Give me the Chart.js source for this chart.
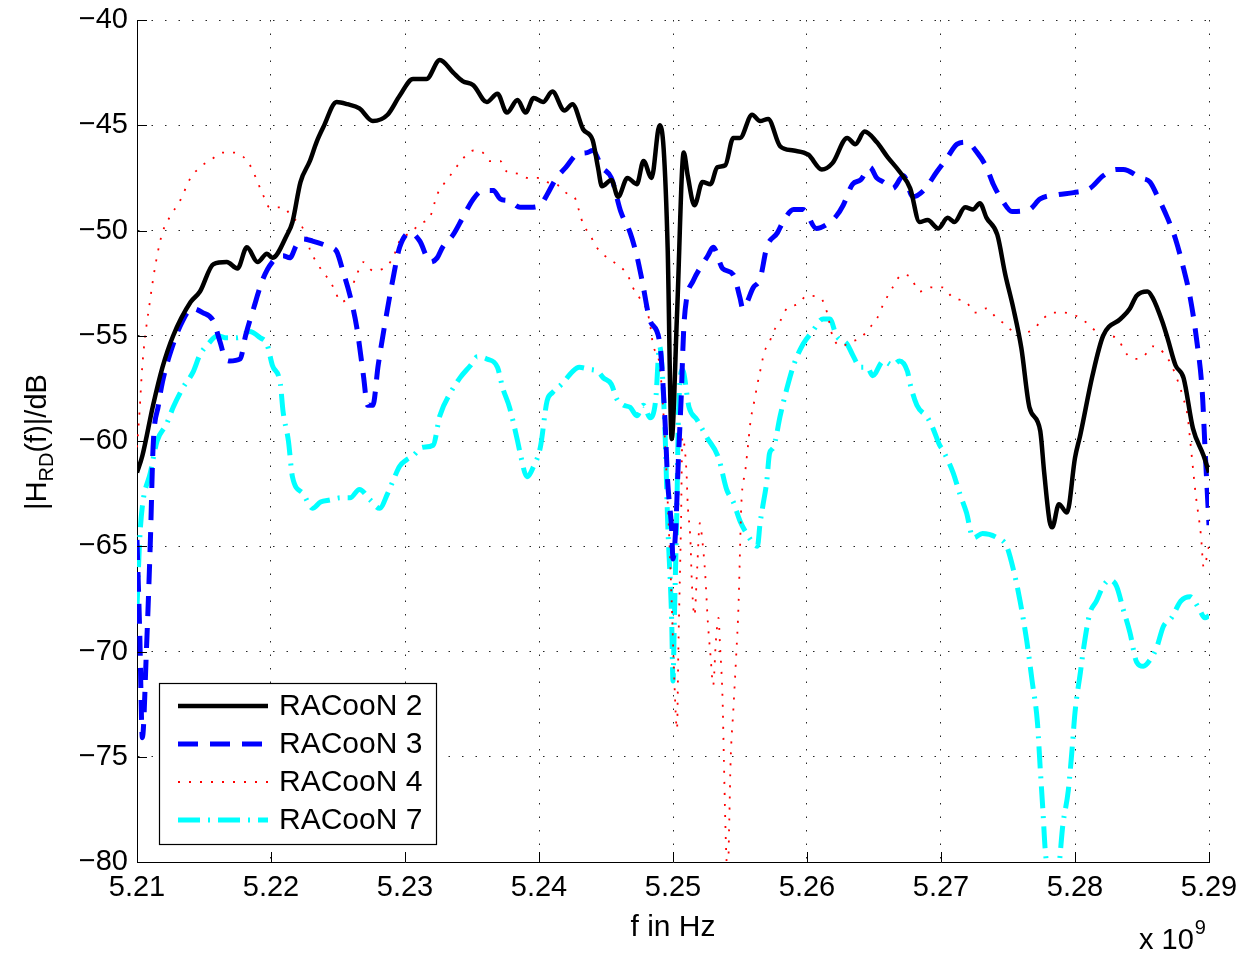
<!DOCTYPE html>
<html>
<head>
<meta charset="utf-8">
<script src="https://cdn.jsdelivr.net/npm/chart.js@4/dist/chart.umd.min.js"></script>
<style>
  html, body { margin: 0; padding: 0; background: #fff; }
  canvas { display: block; }
</style>
</head>
<body>
<canvas id="chart" width="1243" height="955"></canvas>
<script>
// frequency in GHz (axis multiplier x 10^9), magnitude in dB
const xTicks = [5.21, 5.22, 5.23, 5.24, 5.25, 5.26, 5.27, 5.28, 5.29];
const yTicks = [-80, -75, -70, -65, -60, -55, -50, -45, -40];
const seriesNames = ['RACooN 2', 'RACooN 3', 'RACooN 4', 'RACooN 7'];

// RACooN 2
const f2 = [5.2100, 5.2104, 5.2112, 5.2119, 5.2127, 5.2140, 5.2147, 5.2157, 5.2167, 5.2175,
  5.2182, 5.2190, 5.2197, 5.2201, 5.2212, 5.2216, 5.2222, 5.2229, 5.2234, 5.2239,
  5.2249, 5.2257, 5.2266, 5.2276, 5.2287, 5.2296, 5.2306, 5.2316, 5.2326, 5.2336,
  5.2343, 5.2351, 5.2361, 5.2369, 5.2376, 5.2384, 5.2390, 5.2396, 5.2403, 5.2410,
  5.2419, 5.2425, 5.2433, 5.2440, 5.2444, 5.2447, 5.2454, 5.2459, 5.2466, 5.2473,
  5.2478, 5.2484, 5.2490, 5.2493, 5.2496, 5.2499, 5.2503, 5.2508, 5.2511, 5.2516,
  5.2522, 5.2528, 5.2533, 5.2539, 5.2545, 5.2550, 5.2559, 5.2565, 5.2571, 5.2580,
  5.2590, 5.2601, 5.2611, 5.2619, 5.2630, 5.2636, 5.2643, 5.2652, 5.2660, 5.2669,
  5.2677, 5.2684, 5.2690, 5.2698, 5.2705, 5.2710, 5.2718, 5.2724, 5.2729, 5.2734,
  5.2742, 5.2748, 5.2754, 5.2760, 5.2766, 5.2774, 5.2777, 5.2781, 5.2783, 5.2788,
  5.2794, 5.2800, 5.2804, 5.2813, 5.2821, 5.2834, 5.2841, 5.2846, 5.2854, 5.2858,
  5.2865, 5.2869, 5.2875, 5.2881, 5.2888, 5.2896, 5.2900];
const h2 = [-61.5, -60.7, -58.3, -56.5, -55.0, -53.4, -52.9, -51.6, -51.5, -51.8,
  -50.8, -51.5, -51.1, -51.3, -50.2, -49.6, -47.7, -46.7, -45.8, -45.1,
  -43.9, -44.0, -44.2, -44.8, -44.5, -43.6, -42.8, -42.8, -41.9, -42.5,
  -42.9, -43.1, -43.9, -43.5, -44.4, -43.8, -44.4, -43.7, -43.9, -43.4,
  -44.3, -44.0, -45.2, -45.7, -47.0, -47.9, -47.6, -48.4, -47.5, -47.8,
  -46.7, -47.5, -45.0, -46.1, -50.8, -59.9, -54.0, -46.3, -47.4, -48.8,
  -47.7, -47.8, -47.0, -46.9, -45.6, -45.6, -44.5, -44.8, -44.7, -46.0,
  -46.2, -46.4, -47.1, -46.8, -45.6, -45.9, -45.3, -45.8, -46.5, -47.2,
  -48.0, -49.6, -49.5, -49.9, -49.4, -49.6, -48.9, -49.0, -48.7, -49.4,
  -50.2, -52.1, -53.7, -55.6, -58.4, -59.5, -61.5, -63.8, -64.1, -63.0,
  -63.4, -60.8, -59.7, -56.9, -55.0, -54.2, -53.7, -53.1, -52.9, -53.2,
  -54.3, -55.1, -56.4, -57.0, -59.4, -60.7, -61.5];

// RACooN 3
const f3 = [5.2100, 5.2102, 5.2104, 5.2107, 5.2110, 5.2112, 5.2116, 5.2119, 5.2127, 5.2134,
  5.2141, 5.2149, 5.2157, 5.2162, 5.2166, 5.2169, 5.2177, 5.2181, 5.2187, 5.2194,
  5.2201, 5.2209, 5.2214, 5.2219, 5.2224, 5.2231, 5.2244, 5.2249, 5.2254, 5.2259,
  5.2264, 5.2269, 5.2272, 5.2276, 5.2280, 5.2287, 5.2291, 5.2296, 5.2304, 5.2311,
  5.2319, 5.2324, 5.2328, 5.2336, 5.2343, 5.2351, 5.2358, 5.2366, 5.2371, 5.2378,
  5.2386, 5.2393, 5.2401, 5.2406, 5.2413, 5.2420, 5.2428, 5.2436, 5.2440, 5.2447,
  5.2454, 5.2461, 5.2468, 5.2473, 5.2477, 5.2483, 5.2490, 5.2494, 5.2496, 5.2499,
  5.2500, 5.2502, 5.2504, 5.2506, 5.2508, 5.2510, 5.2515, 5.2522, 5.2526, 5.2530,
  5.2537, 5.2545, 5.2550, 5.2552, 5.2560, 5.2565, 5.2570, 5.2578, 5.2582, 5.2590,
  5.2597, 5.2607, 5.2615, 5.2622, 5.2627, 5.2634, 5.2640, 5.2647, 5.2652, 5.2657,
  5.2664, 5.2672, 5.2679, 5.2687, 5.2697, 5.2704, 5.2712, 5.2719, 5.2727, 5.2734,
  5.2739, 5.2746, 5.2753, 5.2766, 5.2774, 5.2787, 5.2799, 5.2811, 5.2821, 5.2831,
  5.2836, 5.2849, 5.2856, 5.2861, 5.2869, 5.2875, 5.2881, 5.2886, 5.2891, 5.2895,
  5.2897, 5.2900];
const h3 = [-64.7, -69.0, -74.1, -70.0, -64.7, -60.3, -58.3, -57.2, -55.4, -54.3,
  -53.7, -53.9, -54.3, -55.3, -56.1, -56.2, -56.1, -55.0, -53.7, -52.3,
  -51.5, -51.2, -51.3, -50.7, -50.4, -50.5, -50.8, -51.0, -52.0, -53.1,
  -54.6, -56.9, -58.3, -58.3, -56.4, -53.7, -52.3, -50.8, -50.1, -50.5,
  -51.5, -51.3, -50.8, -50.2, -49.4, -48.5, -48.1, -48.1, -48.5, -48.6,
  -48.9, -48.9, -48.8, -48.3, -47.5, -47.0, -46.4, -46.3, -46.2, -47.0,
  -47.5, -49.1, -50.1, -51.2, -52.4, -54.3, -55.3, -59.0, -61.9, -64.2,
  -65.6, -64.2, -60.9, -58.1, -54.7, -53.3, -52.4, -51.6, -51.2, -50.8,
  -51.8, -52.1, -53.2, -53.7, -52.7, -52.3, -50.8, -50.1, -49.6, -49.0,
  -49.0, -49.9, -49.7, -49.3, -48.8, -47.8, -47.6, -47.0, -47.5, -47.7,
  -48.0, -47.4, -48.4, -48.1, -47.2, -46.6, -45.9, -45.8, -46.3, -47.0,
  -47.8, -48.6, -49.1, -49.0, -48.5, -48.3, -48.2, -48.0, -47.4, -47.1,
  -47.1, -47.5, -47.7, -48.3, -49.4, -50.4, -51.8, -53.2, -55.3, -57.7,
  -60.3, -64.0];

// RACooN 4
const f4 = [5.2100, 5.2102, 5.2104, 5.2110, 5.2115, 5.2119, 5.2125, 5.2132, 5.2140, 5.2147,
  5.2156, 5.2164, 5.2172, 5.2181, 5.2186, 5.2190, 5.2194, 5.2199, 5.2209, 5.2216,
  5.2222, 5.2227, 5.2229, 5.2234, 5.2239, 5.2244, 5.2248, 5.2252, 5.2257, 5.2261,
  5.2264, 5.2269, 5.2276, 5.2284, 5.2291, 5.2296, 5.2304, 5.2311, 5.2319, 5.2324,
  5.2330, 5.2336, 5.2343, 5.2351, 5.2358, 5.2363, 5.2371, 5.2376, 5.2384, 5.2391,
  5.2399, 5.2406, 5.2413, 5.2420, 5.2428, 5.2430, 5.2433, 5.2438, 5.2443, 5.2451,
  5.2458, 5.2466, 5.2470, 5.2475, 5.2481, 5.2483, 5.2485, 5.2490, 5.2493, 5.2496,
  5.2499, 5.2501, 5.2503, 5.2504, 5.2506, 5.2507, 5.2510, 5.2511, 5.2513, 5.2514,
  5.2516, 5.2518, 5.2520, 5.2522, 5.2524, 5.2526, 5.2528, 5.2530, 5.2532, 5.2534,
  5.2535, 5.2537, 5.2538, 5.2539, 5.2540, 5.2541, 5.2542, 5.2543, 5.2545, 5.2547,
  5.2549, 5.2550, 5.2551, 5.2554, 5.2556, 5.2558, 5.2561, 5.2563, 5.2566, 5.2568,
  5.2572, 5.2575, 5.2580, 5.2585, 5.2593, 5.2600, 5.2610, 5.2615, 5.2619, 5.2626,
  5.2632, 5.2640, 5.2647, 5.2652, 5.2657, 5.2664, 5.2671, 5.2677, 5.2684, 5.2693,
  5.2701, 5.2709, 5.2719, 5.2725, 5.2734, 5.2742, 5.2749, 5.2757, 5.2761, 5.2769,
  5.2776, 5.2784, 5.2791, 5.2799, 5.2809, 5.2816, 5.2824, 5.2831, 5.2839, 5.2846,
  5.2851, 5.2858, 5.2866, 5.2872, 5.2877, 5.2881, 5.2884, 5.2886, 5.2890, 5.2894,
  5.2896, 5.2900];
const h4 = [-60.3, -58.5, -56.4, -53.2, -51.2, -50.1, -49.3, -48.6, -47.5, -47.0,
  -46.6, -46.3, -46.3, -46.6, -47.1, -47.7, -48.3, -48.9, -48.9, -49.4,
  -49.7, -50.4, -50.9, -51.5, -52.0, -52.4, -52.9, -53.4, -53.2, -52.6,
  -52.1, -51.5, -51.9, -51.8, -51.3, -50.5, -50.1, -49.7, -49.3, -48.3,
  -47.7, -47.2, -46.6, -46.2, -46.3, -46.7, -46.7, -47.2, -47.3, -47.5,
  -47.5, -47.7, -47.8, -48.2, -48.6, -49.1, -49.7, -50.2, -50.8, -51.3,
  -51.6, -52.1, -52.7, -53.2, -53.9, -54.5, -55.4, -56.4, -58.8, -62.8,
  -67.6, -71.4, -73.7, -69.9, -63.8, -59.8, -61.4, -63.0, -64.7, -66.6,
  -68.3, -66.1, -63.9, -64.8, -66.3, -68.6, -70.2, -71.6, -69.5, -68.4,
  -69.6, -72.3, -75.2, -78.0, -80.0, -80.5, -78.0, -75.2, -72.8, -70.4,
  -67.6, -65.2, -63.0, -61.4, -60.2, -59.0, -58.0, -57.3, -56.4, -55.8,
  -55.3, -54.8, -54.3, -53.7, -53.5, -53.1, -53.2, -53.9, -55.0, -55.5,
  -55.3, -55.1, -54.6, -54.2, -53.5, -52.7, -52.1, -52.2, -52.9, -52.7,
  -52.7, -53.2, -53.4, -53.9, -53.7, -54.2, -54.5, -55.0, -54.9, -54.7,
  -54.2, -53.9, -53.9, -54.0, -54.4, -54.8, -55.0, -55.1, -55.9, -56.1,
  -56.0, -55.5, -55.8, -56.4, -57.2, -58.0, -58.8, -60.0, -62.5, -64.5,
  -66.0, -65.0];

// RACooN 7
const f7 = [5.2100, 5.2102, 5.2104, 5.2110, 5.2115, 5.2122, 5.2127, 5.2134, 5.2142, 5.2147,
  5.2153, 5.2160, 5.2167, 5.2175, 5.2184, 5.2192, 5.2197, 5.2201, 5.2207, 5.2209,
  5.2213, 5.2216, 5.2224, 5.2231, 5.2237, 5.2244, 5.2252, 5.2259, 5.2266, 5.2274,
  5.2281, 5.2287, 5.2291, 5.2296, 5.2301, 5.2306, 5.2313, 5.2321, 5.2326, 5.2334,
  5.2341, 5.2349, 5.2354, 5.2361, 5.2369, 5.2373, 5.2378, 5.2384, 5.2386, 5.2391,
  5.2396, 5.2401, 5.2406, 5.2410, 5.2417, 5.2425, 5.2430, 5.2438, 5.2444, 5.2448,
  5.2454, 5.2458, 5.2463, 5.2468, 5.2473, 5.2478, 5.2483, 5.2487, 5.2490, 5.2494,
  5.2496, 5.2499, 5.2500, 5.2501, 5.2503, 5.2504, 5.2507, 5.2512, 5.2518, 5.2525,
  5.2534, 5.2540, 5.2545, 5.2550, 5.2555, 5.2563, 5.2565, 5.2567, 5.2570, 5.2572,
  5.2575, 5.2580, 5.2585, 5.2590, 5.2597, 5.2604, 5.2612, 5.2617, 5.2622, 5.2630,
  5.2634, 5.2640, 5.2645, 5.2649, 5.2657, 5.2664, 5.2669, 5.2675, 5.2677, 5.2682,
  5.2690, 5.2694, 5.2699, 5.2701, 5.2709, 5.2714, 5.2719, 5.2724, 5.2731, 5.2742,
  5.2749, 5.2754, 5.2759, 5.2764, 5.2768, 5.2772, 5.2774, 5.2776, 5.2778, 5.2781,
  5.2787, 5.2791, 5.2795, 5.2798, 5.2800, 5.2804, 5.2807, 5.2811, 5.2816, 5.2821,
  5.2826, 5.2831, 5.2836, 5.2841, 5.2846, 5.2851, 5.2856, 5.2861, 5.2866, 5.2872,
  5.2879, 5.2886, 5.2892, 5.2897, 5.2900];
const h7 = [-67.9, -64.7, -63.1, -61.5, -60.0, -59.2, -58.4, -57.5, -56.7, -55.9,
  -55.4, -55.0, -55.1, -55.1, -54.8, -55.1, -55.4, -56.4, -57.3, -58.6,
  -60.0, -61.7, -62.5, -63.2, -62.9, -62.8, -62.7, -62.7, -62.3, -62.8,
  -63.2, -62.5, -61.9, -61.2, -60.9, -60.7, -60.3, -60.2, -58.8, -57.7,
  -57.0, -56.4, -56.0, -56.1, -56.5, -57.5, -58.4, -60.0, -60.6, -61.7,
  -61.2, -60.3, -58.1, -57.7, -57.3, -56.7, -56.5, -56.6, -56.7, -57.0,
  -57.3, -58.0, -58.3, -58.4, -58.8, -58.3, -58.9, -58.1, -55.5, -59.5,
  -63.8, -68.5, -71.4, -68.5, -62.8, -59.0, -56.6, -58.4, -59.0, -59.8,
  -60.8, -62.3, -62.9, -63.8, -64.4, -65.0, -63.9, -63.1, -61.9, -60.6,
  -60.3, -58.8, -57.5, -56.4, -55.4, -54.8, -54.2, -54.2, -55.0, -55.4,
  -55.9, -56.5, -56.5, -56.9, -56.2, -56.4, -56.2, -56.7, -57.3, -58.3,
  -58.9, -59.4, -60.2, -60.4, -61.5, -62.5, -63.4, -64.6, -64.4, -64.6,
  -65.0, -66.1, -67.6, -69.5, -71.4, -73.4, -75.5, -77.5, -79.6, -80.5,
  -80.5, -78.2, -76.6, -74.5, -72.9, -71.0, -69.6, -68.2, -67.6, -66.9,
  -66.6, -66.9, -68.0, -69.1, -70.5, -70.7, -70.4, -69.8, -68.8, -68.4,
  -67.6, -67.4, -67.9, -68.4, -68.3];

const FONT = '"Liberation Sans", Arial, Helvetica, sans-serif';

function toPoints(fs, hs) {
    return fs.map((f, i) => ({ x: f, y: hs[i] }));
}

const styles = [
    { color: '#000000', width: 4.5, dash: [] },
    { color: '#0000ff', width: 5, dash: [20, 12] },
    { color: '#ff0000', width: 1.8, dash: [2, 9] },
    { color: '#00ffff', width: 5, dash: [22, 8, 2, 8] }
];
const allData = [toPoints(f2, h2), toPoints(f3, h3), toPoints(f4, h4), toPoints(f7, h7)];

const datasets = allData.map((d, i) => ({
    label: seriesNames[i],
    data: d,
    borderColor: styles[i].color,
    borderWidth: styles[i].width,
    borderDash: styles[i].dash,
    borderJoinStyle: 'round',
    cubicInterpolationMode: 'monotone',
    pointRadius: 0,
    fill: false
}));

// axis decorations, titles and the boxed legend
const decorations = {
    id: 'decorations',
    afterDraw(chart) {
        const ctx = chart.ctx;
        const area = chart.chartArea;
        const xs = chart.scales.x;
        const ys = chart.scales.y;
        ctx.save();

        // inward tick marks on left and bottom axes
        ctx.strokeStyle = '#000';
        ctx.lineWidth = 1;
        ctx.setLineDash([]);
        ctx.beginPath();
        yTicks.forEach(v => {
            const y = Math.round(ys.getPixelForValue(v)) + 0.5;
            ctx.moveTo(area.left, y);
            ctx.lineTo(area.left + 10, y);
        });
        xTicks.forEach(v => {
            const x = Math.round(xs.getPixelForValue(v)) + 0.5;
            ctx.moveTo(x, area.bottom);
            ctx.lineTo(x, area.bottom - 10);
        });
        ctx.stroke();

        ctx.fillStyle = '#000';
        // y title with subscript
        ctx.save();
        ctx.translate(46, 442);
        ctx.rotate(-Math.PI / 2);
        const big = '29px ' + FONT;
        const small = '20px ' + FONT;
        const parts = [['|H', big, 0], ['RD', small, 7], ['(f)|/dB', big, 0]];
        let total = 0;
        parts.forEach(p => { ctx.font = p[1]; total += ctx.measureText(p[0]).width; });
        let px = -total / 2;
        ctx.textBaseline = 'alphabetic';
        ctx.textAlign = 'left';
        parts.forEach(p => {
            ctx.font = p[1];
            ctx.fillText(p[0], px, p[2]);
            px += ctx.measureText(p[0]).width;
        });
        ctx.restore();

        // x title
        ctx.font = '30px ' + FONT;
        ctx.textAlign = 'center';
        ctx.textBaseline = 'alphabetic';
        ctx.fillText('f in Hz', (area.left + area.right) / 2, 936);

        // exponent note
        ctx.font = '29px ' + FONT;
        ctx.textAlign = 'left';
        ctx.fillText('x 10', 1139, 949);
        const w = ctx.measureText('x 10').width;
        ctx.font = '20px ' + FONT;
        ctx.fillText('9', 1139 + w + 1, 934);

        // legend
        const lx = 159, ly = 683, lw = 277, lh = 161;
        ctx.fillStyle = '#fff';
        ctx.fillRect(lx, ly, lw, lh);
        ctx.strokeStyle = '#000';
        ctx.lineWidth = 1.2;
        ctx.strokeRect(lx + 0.5, ly + 0.5, lw, lh);
        seriesNames.forEach((name, i) => {
            const y = 706 + i * 38;
            ctx.strokeStyle = styles[i].color;
            ctx.lineWidth = styles[i].width;
            ctx.setLineDash(styles[i].dash);
            ctx.beginPath();
            ctx.moveTo(178, y);
            ctx.lineTo(268, y);
            ctx.stroke();
            ctx.setLineDash([]);
            ctx.fillStyle = '#000';
            ctx.font = '30px ' + FONT;
            ctx.textAlign = 'left';
            ctx.textBaseline = 'middle';
            ctx.fillText(name, 279, y + 1);
        });
        ctx.restore();
    }
};

new Chart(document.getElementById('chart').getContext('2d'), {
    type: 'line',
    data: { datasets: datasets },
    options: {
        responsive: false,
        animation: false,
        events: [],
        layout: { padding: { left: 0, top: 20, right: 34, bottom: 0 } },
        plugins: {
            legend: { display: false },
            tooltip: { enabled: false }
        },
        scales: {
            x: {
                type: 'linear',
                min: 5.21,
                max: 5.29,
                afterBuildTicks: scale => { scale.ticks = xTicks.map(v => ({ value: v })); },
                afterFit: scale => {
                    scale.height = 93;
                    scale.paddingLeft = 0;
                    scale.paddingRight = 0;
                },
                ticks: {
                    color: '#000',
                    font: { family: FONT, size: 29 },
                    padding: 9,
                    maxRotation: 0,
                    callback: v => v.toFixed(2)
                },
                grid: { color: 'rgba(0,0,0,0.85)', lineWidth: 1, drawTicks: false },
                border: { display: true, color: '#000', width: 1, dash: [1.5, 12] }
            },
            y: {
                type: 'linear',
                min: -80,
                max: -40,
                afterBuildTicks: scale => { scale.ticks = yTicks.map(v => ({ value: v })); },
                afterFit: scale => {
                    scale.width = 137;
                    scale.paddingTop = 0;
                    scale.paddingBottom = 0;
                },
                ticks: {
                    color: '#000',
                    font: { family: FONT, size: 29 },
                    padding: 9,
                    callback: v => String(v).replace('-', '\u2212')
                },
                grid: { color: 'rgba(0,0,0,0.85)', lineWidth: 1, drawTicks: false },
                border: { display: true, color: '#000', width: 1, dash: [1.5, 12] }
            }
        }
    },
    plugins: [decorations]
});
</script>
</body>
</html>
